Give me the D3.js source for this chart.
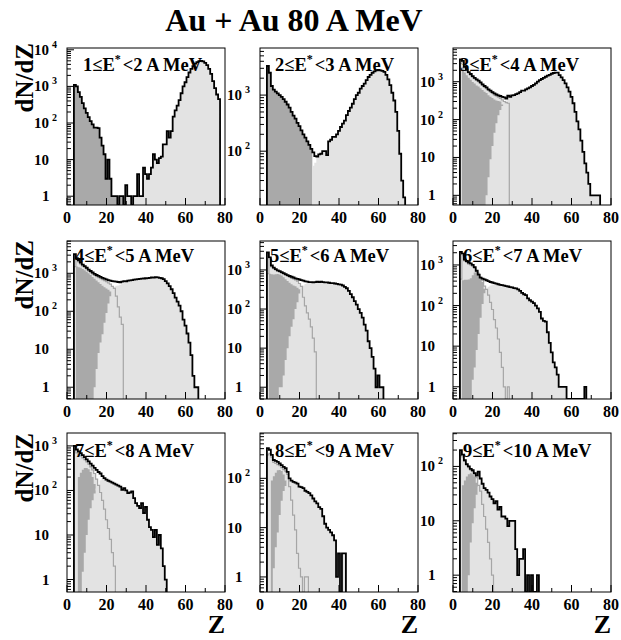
<!DOCTYPE html>
<html>
<head>
<meta charset="utf-8">
<script src="https://cdnjs.cloudflare.com/ajax/libs/d3/7.8.5/d3.min.js"></script>
<style>
  body { margin: 0; background: #fff; }
  text { font-family: "Liberation Serif", "Times New Roman", serif; font-weight: bold; fill: #000; }
</style>
</head>
<body>
<div id="chart"></div>
<script>
// Excitation energy bins (A MeV)
var eLow = [1, 2, 3, 4, 5, 6, 7, 8, 9];
var eHigh = [2, 3, 4, 5, 6, 7, 8, 9, 10];

// y range of each panel (dN/dZ, log)
var yMin = [0.575, 11, 0.556, 0.49, 0.5, 0.5, 0.525, 0.495, 0.49];
var yMax = [11200, 6900, 7760, 7080, 5500, 3890, 1950, 830, 412];
var xTicks = [0, 20, 40, 60, 80];

// first Z of each series (total and light1 start at Z = 4)
var firstZ = 4;
var darkStart = [4, 4, 5, 5, 5, 5, 6, 6, 5];
var light2Start = [29, 27, 17, 14, 10, 10, 8, 7, 8];

// 1 <= E* < 2
var p1Total = [1100,1000,700,520,350,250,190,145,113,92, 75,75,72,40,24,14,3,10,3,1, 1,1,0,1,1,0,2,1,1,0,
  1,1,4,1,1,6,4,3,4,6, 14,10,8,11,12,26,26,60,40,60, 150,220,300,420,650,1000,1300,1800,2400,3000,
  3600,4200,4600,4900,5000,4800,4400,3800,3000,2200, 1400,900,600,450];
var p1Dark = [1100,1000,700,520,350,250,190,145,113,92, 75,75,72,40,24,14,3,10,3,1, 1,1,0,1,1];
var p1Light1 = [];
var p1Light2 = [0,2,1,1,0, 1,1,4,1,1, 6,4,3,4,6, 14,10,8,11,12, 26,26,60,40,60, 150,220,300,420,650,
  1000,1300,1800,2400,3000, 3600,4200,4600,4900,5000, 4800,4400,3800,3000,2200, 1400,900,600,450];

// 2 <= E* < 3
var p2Total = [3300,2500,1450,1250,1150,1070,1000,930,850,760, 680,600,500,430,380,320,280,235,200,175,
  150,130,110,95,82,80,88,90,100,100, 85,150,160,180,180,200,230,270,310,350,
  440,520,600,700,850,1000,1100,1300,1450,1600, 1850,2100,2300,2500,2650,2750,2800,2750,2700,2600,
  2300,1900,1500,1100,800,500,230,90,30,15];
var p2Dark = [3300,2500,1450,1250,1150,1070,1000,930,850,760, 680,600,500,430,380,320,280,235,200,175, 150,130,110];
var p2Light1 = [];
var p2Light2 = [55,62, 80,88,90,100,100, 85,150,160,180,180,200,230,270,310,350,
  440,520,600,700,850,1000,1100,1300,1450,1600, 1850,2100,2300,2500,2650,2750,2800,2750,2700,2600,
  2300,1900,1500,1100,800,500,230,90,30,15];

// 3 <= E* < 4
var p3Total = [3900,3550,2450,2100,1800,1600,1400,1270,1150,1070, 960,850,770,710,630,580,530,490,460,435,
  420,400,385,360,430,400,435,440,470,490, 530,580,580,630,670,710,770,820,900,1000,
  1100,1180,1270,1350,1450,1520,1620,1700,1730,1730, 1500,1300,1100,900,710,550,400,270,160,90,
  55,28,14,7,4,2,1,1,1,1, 1];
var p3Dark = [2500,1750,1480,1270,1120,980,890,800,750,670, 600,540,500,440,400,370,340,320,310,300, 250,150,30];
var p3Light1 = [3000,3300,2300,1950,1700,1500,1320,1200,1080,1000, 900,800,720,660,590,540,490,450,420,390, 360,330,300,280,270];
var p3Light2 = [1,3,9,20,45,80,130,180,230,280, 320,360,
  400,435,440,470,490, 530,580,580,630,670,710,770,820,900,1000,
  1100,1180,1270,1350,1450,1520,1620,1700,1730,1730, 1500,1300,1100,900,710,550,400,270,160,90,
  55,28,14,7,4,2,1,1,1,1, 1];

// 4 <= E* < 5
var p4Total = [3200,2500,2200,1900,1700,1550,1400,1250,1150,1050, 960,900,850,800,760,720,690,660,640,620,
  610,600,590,580,600,620,610,640,650,660, 680,690,700,710,720,730,740,750,760,780,
  770,790,780,760,740,700,620,540,460,380, 300,230,180,140,100,60,42,26,15,7, 2,1,1];
var p4Dark = [1500,1450,1400,1300,1200,1100,1000,900,800,720, 650,580,520,470,430,400,370,330,200,80, 20];
var p4Light1 = [1500,2300,2000,1750,1550,1420,1300,1150,1060,970, 880,820,770,720,680,640,600,560,520,450, 400,250,130,70,45];
var p4Light2 = [1,3,8,15,25,50,90,160,250,380, 440,470,480,500,540,560,
  610,640,650,660, 680,690,700,710,720,730,740,750,760,780,
  770,790,780,760,740,700,620,540,460,380, 300,230,180,140,100,60,42,26,15,7, 2,1,1];

// 5 <= E* < 6
var p5Total = [2800,2100,1300,1150,1050,980,930,880,830,780, 740,700,670,640,610,590,570,550,530,510,
  500,490,490,480,490,500,490,500,490,480, 480,470,460,460,450,440,430,420,400,370,
  340,290,240,200,160,130,100,80,60,40, 28,15,10,6,3,1,2,1,1];
var p5Dark = [800,780,760,780,790,770,720,650,580,520, 470,430,400,380,350,320,200,80,20];
var p5Light1 = [800,1900,1200,1080,1000,930,880,830,780,730, 690,650,620,590,560,520,450,380,200,120, 80,55,35,18,8];
var p5Light2 = [1,1,2,5,10,20,35,55,100,150, 250,340,400,440,470,480,
  490,480,490,500,490,500,490,480, 480,470,460,460,450,440,430,420,400,370,
  340,290,240,200,160,130,100,80,60,40, 28,15,10,6,3,1,2,1,1];

// 6 <= E* < 7
var p6Total = [2100,1900,1350,1250,1150,1100,1000,880,720,580, 490,460,440,420,400,380,370,355,345,335,
  325,320,310,300,295,285,280,270,265,250, 230,205,190,180,150,135,125,115,100,85,
  70,48,42,40,22,12,7,4,3,2, 1,1,1,1,0,0,0,0,0,0, 0,0,0,1];
var p6Dark = [420,430,430,440,470,560,650,680,650,520, 380,260,120,40,10];
var p6Light1 = [450,1700,1250,1150,1050,1000,920,820,700,560, 470,420,300,250,180,120,80,45,28,15, 7,3,1,0,1];
var p6Light2 = [1.5,3,8,20,50,110,200,260,290,310, 330,340,
  345,335, 325,320,310,300,295,285,280,270,265,250, 230,205,190,180,150,135,125,115,100,85,
  70,48,42,40,22,12,7,4,3,2, 1,1,1,1,0,0,0,0,0,0, 0,0,0,1];

// 7 <= E* < 8
var p7Total = [1000,830,750,690,620,560,500,450,400,360, 320,290,260,240,210,190,175,165,158,150,
  142,135,128,122,103,113,100,87,90,95, 67,52,45,40,52,31,43,22,15,13, 9,13,6,10,5,2,1];
var p7Dark = [200,250,290,320,320,300,260,200,140,100, 60,20];
var p7Light1 = [850,700,650,600,540,490,440,390,340,290, 240,180,130,90,60,38,22,14,8,4, 2];
var p7Light2 = [1.5,4,10,22,40,60,85,110,130,170, 185,
  190,175,165,158,150, 142,135,128,122,103,113,100,87,90,95, 67,52,45,40,52,31,43,22,15,13, 9,13,6,10,5,2,1];

// 8 <= E* < 9
var p8Total = [410,380,300,235,225,215,200,185,170,160, 135,100,90,85,82,78,68,66,63,56,
  53,50,45,39,34,31,26,24,17,12, 10,9,8,7,5.5,1,3,0,3,3];
var p8Dark = [90,110,130,145,148,140,120,90,60,25];
var p8Light1 = [300,320,270,210,200,190,180,165,150,140, 120,68,36,18,9,3,1.5,1,0,1, 1];
var p8Light2 = [1.5,4,8,18,35,55,70,90,95,
  90,85,82,78,68,66,63,56, 53,50,45,39,34,31,26,24,17,12, 10,9,8,7,5.5,1,3,0,3,3];

// 9 <= E* < 10
var p9Total = [200,165,130,110,100,90,85,75,68,80, 60,48,40,37,33,28,25,21,23,16,
  18,12,12,11,8,10,10,10,3,1, 2,2,3,0,1,0,1,0,0,1];
var p9Dark = [45,55,65,72,75,72,65,50,30,10];
var p9Light1 = [160,150,125,105,95,85,80,72,62,45, 35,20,12,7,4,2,1];
var p9Light2 = [1,4,9,17,30,42,50,48,
  40,37,33,28,25,21,23,16, 18,12,12,11,8,10,10,10,3,1, 2,2,3,0,1,0,1,0,0,1];

var totals = [p1Total, p2Total, p3Total, p4Total, p5Total, p6Total, p7Total, p8Total, p9Total];
var darks = [p1Dark, p2Dark, p3Dark, p4Dark, p5Dark, p6Dark, p7Dark, p8Dark, p9Dark];
var lights1 = [p1Light1, p2Light1, p3Light1, p4Light1, p5Light1, p6Light1, p7Light1, p8Light1, p9Light1];
var lights2 = [p1Light2, p2Light2, p3Light2, p4Light2, p5Light2, p6Light2, p7Light2, p8Light2, p9Light2];

function drawChart() {
  var svg = d3.select("#chart").append("svg")
      .attr("width", 621).attr("height", 640);

  var W = 158;
  var colLeft = [67, 260, 453];
  var rowTop = [48, 241, 433];
  var rowH = [157, 158, 159];
  var labelX = [83, 275, 460, 75, 270, 463, 75, 275, 463];
  var labelY = [71, 262, 457];
  var LIGHT = "#e3e3e3", DARK = "#a9a9a9", GRAY = "#a6a6a6";

  // title
  svg.append("text").attr("x", 294).attr("y", 31).attr("text-anchor", "middle")
      .style("font-size", "32px").text("Au + Au 80 A MeV");

  var dndzEnd = [43, 240, 433];
  dndzEnd.forEach(function (yy) {
    svg.append("text").attr("transform", "translate(33," + yy + ") rotate(-90)")
        .attr("text-anchor", "end").style("font-size", "25px").text("dN/dZ");
  });
  colLeft.forEach(function (l) {
    svg.append("text").attr("x", l + W).attr("y", 633).attr("text-anchor", "end")
        .style("font-size", "26px").text("Z");
  });

  for (var i = 0; i < 9; i++) {
    var col = i % 3, row = Math.floor(i / 3);
    var left = colLeft[col], top = rowTop[row], h = rowH[row], bottom = top + h;

    var x = d3.scaleLinear().domain([0, 80]).range([left, left + W]);
    var y = d3.scaleLog().domain([yMin[i], yMax[i]]).range([bottom, top]);
    var yv = (function (y, top, bottom) {
      return function (v) { return v > 0 ? Math.max(top, Math.min(bottom, y(v))) : bottom; };
    })(y, top, bottom);

    var steps = function (vals, z0) {
      var pts = [];
      vals.forEach(function (v, k) { pts.push([z0 + k - 0.5, v], [z0 + k + 0.5, v]); });
      return pts;
    };
    var area = d3.area().x(function (p) { return x(p[0]); }).y0(bottom).y1(function (p) { return yv(p[1]); });
    var line = d3.line().x(function (p) { return x(p[0]); }).y(function (p) { return yv(p[1]); });
    var outline = function (vals, z0) {
      var s = steps(vals, z0);
      return line([[s[0][0], 0]].concat(s, [[s[s.length - 1][0], 0]]));
    };

    svg.append("clipPath").attr("id", "clip" + i).append("rect")
        .attr("x", left).attr("y", top).attr("width", W).attr("height", h);
    var plot = svg.append("g").attr("clip-path", "url(#clip" + i + ")");

    if (lights1[i].length) plot.append("path").attr("d", area(steps(lights1[i], firstZ))).attr("fill", LIGHT);
    plot.append("path").attr("d", area(steps(darks[i], darkStart[i]))).attr("fill", DARK);
    plot.append("path").attr("d", area(steps(lights2[i], light2Start[i]))).attr("fill", LIGHT);
    if (lights1[i].length) plot.append("path").attr("d", outline(lights1[i], firstZ))
        .attr("fill", "none").attr("stroke", GRAY).attr("stroke-width", 1.2);
    plot.append("path").attr("d", outline(totals[i], firstZ))
        .attr("fill", "none").attr("stroke", "#000").attr("stroke-width", 1.8);

    var g = svg.append("g");
    g.append("rect").attr("x", left).attr("y", top).attr("width", W).attr("height", h)
        .attr("fill", "none").attr("stroke", "#000").attr("stroke-width", 1);

    // x ticks
    d3.range(0, 81, 10).forEach(function (t) {
      var len = t % 20 === 0 ? 7 : 4;
      g.append("line").attr("x1", x(t)).attr("x2", x(t)).attr("y1", bottom).attr("y2", bottom - len)
          .attr("stroke", "#000");
    });
    xTicks.forEach(function (t) {
      g.append("text").attr("x", x(t)).attr("y", bottom + 18).attr("text-anchor", "middle")
          .style("font-size", "16px").text(t);
    });

    // y ticks (log)
    var dLo = Math.floor(Math.log10(yMin[i])), dHi = Math.ceil(Math.log10(yMax[i]));
    for (var d = dLo; d <= dHi; d++) {
      for (var k = 1; k <= 9; k++) {
        var v = k * Math.pow(10, d);
        if (v < yMin[i] || v > yMax[i]) continue;
        g.append("line").attr("x1", left).attr("x2", left + (k === 1 ? 7 : 4))
            .attr("y1", y(v)).attr("y2", y(v)).attr("stroke", "#000");
        if (k === 1) {
          var ty = y(v) + 5;
          if (d === 0) {
            g.append("text").attr("x", left - 25).attr("y", ty).style("font-size", "15px").text("1");
          } else {
            var t = g.append("text").attr("x", left - 33).attr("y", ty).style("font-size", "15px").text("10");
            if (d > 1) t.append("tspan").attr("dx", 3).attr("dy", -7).style("font-size", "10px").text(d);
          }
        }
      }
    }

    // panel label
    var lab = svg.append("text").attr("x", labelX[i]).attr("y", labelY[row]).style("font-size", "18.5px");
    lab.append("tspan").text(eLow[i] + "\u2264E");
    lab.append("tspan").attr("dy", -8).style("font-size", "12px").text("*");
    lab.append("tspan").attr("dy", 8).attr("dx", 2).text("<" + eHigh[i] + " A MeV");
  }
}

drawChart();
</script>
</body>
</html>
